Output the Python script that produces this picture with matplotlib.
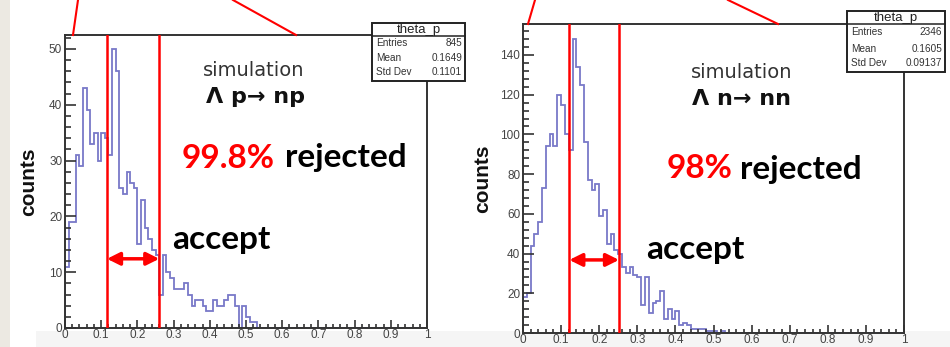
import numpy as np
import matplotlib
matplotlib.use("Agg")
import matplotlib.pyplot as plt
from matplotlib.patches import Rectangle
from matplotlib.lines import Line2D
from matplotlib.ticker import MultipleLocator

# ---------------- data ----------------
bin_edges = np.linspace(0.0, 1.0, 101)

counts_lp = [11, 19, 19, 31, 29, 43, 39, 33, 35, 30,
             35, 34, 31, 50, 46, 25, 24, 28, 26, 25,
             15, 23, 18, 16, 14, 13, 6, 13, 10, 9,
             7, 7, 7, 8, 6, 4, 5, 5, 4, 3,
             3, 5, 4, 4, 5, 6, 6, 4, 0, 4,
             2, 1, 1, 0]
counts_ln = [18, 20, 44, 50, 56, 73, 94, 100, 94, 120,
             115, 100, 92, 148, 134, 125, 96, 77, 72, 75,
             59, 62, 45, 50, 42, 40, 33, 30, 33, 29,
             28, 14, 28, 10, 15, 16, 21, 7, 12, 7,
             11, 4, 5, 4, 2, 2, 2, 2, 1, 1,
             1, 0, 1, 0]

stats_lp = [("Entries", "845"), ("Mean", "0.1649"), ("Std Dev", "0.1101")]
stats_ln = [("Entries", "2346"), ("Mean", "0.1605"), ("Std Dev", "0.09137")]

cut_lp = (0.116, 0.2605)
cut_ln = (0.1215, 0.252)

xticks = [0, 0.1, 0.2, 0.3, 0.4, 0.5, 0.6, 0.7, 0.8, 0.9, 1]
xticklabels = ["0", "0.1", "0.2", "0.3", "0.4", "0.5", "0.6", "0.7", "0.8", "0.9", "1"]


def pad(v):
    return list(v) + [0] * (100 - len(v))


W, H = 950, 347
fig = plt.figure(figsize=(W / 100, H / 100), dpi=100)
fig.patch.set_facecolor("white")


def fx(x):
    return x / W


def fy(y):
    return 1 - y / H


# beige strip at left
fig.patches.append(Rectangle((0, 0), fx(10), 1, transform=fig.transFigure,
                             facecolor="#ece9e2", edgecolor="none", zorder=-5))
# faint grey band at bottom
fig.patches.append(Rectangle((fx(36), 0), 1, fy(331), transform=fig.transFigure,
                             facecolor="#f5f5f5", edgecolor="none", zorder=-5))

TICKC = "#333333"


def make_panel(x0, x1, ytop, ybot, ymax, counts, ymajor, cut, arrow_y, lpad):
    ax = fig.add_axes([fx(x0), fy(ybot), fx(x1) - fx(x0), fy(ytop) - fy(ybot)])
    ax.set_facecolor("white")
    ax.stairs(pad(counts), bin_edges, color="#7878c8", lw=1.3)
    ax.set_xlim(0, 1)
    ax.set_ylim(0, ymax)
    ax.set_xticks(xticks)
    ax.set_xticklabels(xticklabels)
    ax.xaxis.set_minor_locator(MultipleLocator(0.02))
    ax.yaxis.set_major_locator(MultipleLocator(ymajor))
    ax.yaxis.set_minor_locator(MultipleLocator(ymajor / 5))
    ax.tick_params(axis="x", which="major", direction="in", length=6, width=1.2,
                   color=TICKC, labelsize=8.5, labelcolor="#444444", pad=1)
    ax.tick_params(axis="x", which="minor", direction="in", length=3, width=1.2, color=TICKC)
    ax.tick_params(axis="y", which="major", direction="in", length=8, width=1.2,
                   color=TICKC, labelsize=8.5, labelcolor="#444444", pad=2)
    ax.tick_params(axis="y", which="minor", direction="in", length=4, width=1.2, color=TICKC)
    for lab in ax.get_xticklabels() + ax.get_yticklabels():
        lab.set_family("Liberation Sans")
    for s in ax.spines.values():
        s.set_color("#333333")
        s.set_linewidth(1.4)
    ax.set_ylabel("counts", fontsize=15, fontweight="bold", family="Liberation Sans",
                  color="#111111", labelpad=lpad)
    for c in cut:
        ax.axvline(c, color="red", lw=1.8, zorder=5)
    ax.annotate("", xy=(cut[1], arrow_y), xytext=(cut[0], arrow_y),
                arrowprops=dict(arrowstyle="<|-|>", color="red", lw=2.5,
                                mutation_scale=19, shrinkA=0, shrinkB=0), zorder=6)
    return ax


axL = make_panel(65, 427, 35, 328, 52.5, counts_lp, 10, cut_lp, 12.4, 8)
axR = make_panel(523, 904, 24, 333, 155.6, counts_ln, 20, cut_ln, 36.8, 6)


def ftext(x, y, s, **kw):
    fig.text(fx(x), fy(y), s, transform=fig.transFigure, **kw)


# callout lines at top
for (xa, ya, xb, yb) in [(78, 0, 73, 35), (233, 0, 296, 35), (535, 0, 528, 24), (728, 0, 778, 24)]:
    fig.add_artist(Line2D([fx(xa), fx(xb)], [fy(ya), fy(yb)], transform=fig.transFigure,
                          color="red", lw=1.5, zorder=10))


def stats_box(x0, x1, y0, y1, ysep, rows, rowy):
    fig.add_artist(Rectangle((fx(x0), fy(y1)), fx(x1) - fx(x0), fy(y0) - fy(y1),
                             transform=fig.transFigure, facecolor="white",
                             edgecolor="#222222", lw=1.4, zorder=20))
    fig.add_artist(Line2D([fx(x0), fx(x1)], [fy(ysep), fy(ysep)], transform=fig.transFigure,
                          color="#222222", lw=1.1, zorder=21))
    ftext((x0 + x1) / 2, (y0 + ysep) / 2 + 0.5, "theta_p", ha="center", va="center",
          fontsize=9.5, family="Liberation Sans", color="#222222", zorder=22)
    for (k, v), yy in zip(rows, rowy):
        ftext(x0 + 4, yy, k, ha="left", va="center", fontsize=7.2,
              family="Liberation Sans", color="#333333", zorder=22)
        ftext(x1 - 3, yy, v, ha="right", va="center", fontsize=7.2,
              family="Liberation Sans", color="#333333", zorder=22)


stats_box(372, 465, 23, 81, 36, stats_lp, [43, 58, 72])
stats_box(847, 945, 11, 72, 24, stats_ln, [32, 49, 63])

# annotations
ftext(254, 70, "simulation", ha="center", va="center", fontsize=14,
      family="DejaVu Sans", color="#333333")
ftext(256, 97, "Λ p→ np", ha="center", va="center", fontsize=16,
      family="DejaVu Sans", fontweight="bold", color="#111111")
ftext(742, 73, "simulation", ha="center", va="center", fontsize=14,
      family="DejaVu Sans", color="#333333")
ftext(741, 99, "Λ n→ nn", ha="center", va="center", fontsize=16,
      family="DejaVu Sans", fontweight="bold", color="#111111")

BIG = 24
ftext(182, 158, "99.8%", ha="left", va="center", fontsize=BIG, family="Lato",
      fontweight="bold", color="red")
ftext(285, 158, "rejected", ha="left", va="center", fontsize=BIG, family="Lato",
      fontweight="bold", color="black")
ftext(172, 239, "accept", ha="left", va="center", fontsize=BIG, family="Lato",
      fontweight="bold", color="black")

ftext(667, 169, "98%", ha="left", va="center", fontsize=BIG, family="Lato",
      fontweight="bold", color="red")
ftext(740, 169, "rejected", ha="left", va="center", fontsize=BIG, family="Lato",
      fontweight="bold", color="black")
ftext(646, 249, "accept", ha="left", va="center", fontsize=BIG, family="Lato",
      fontweight="bold", color="black")

fig.savefig("out.png", dpi=100, facecolor=fig.get_facecolor())
